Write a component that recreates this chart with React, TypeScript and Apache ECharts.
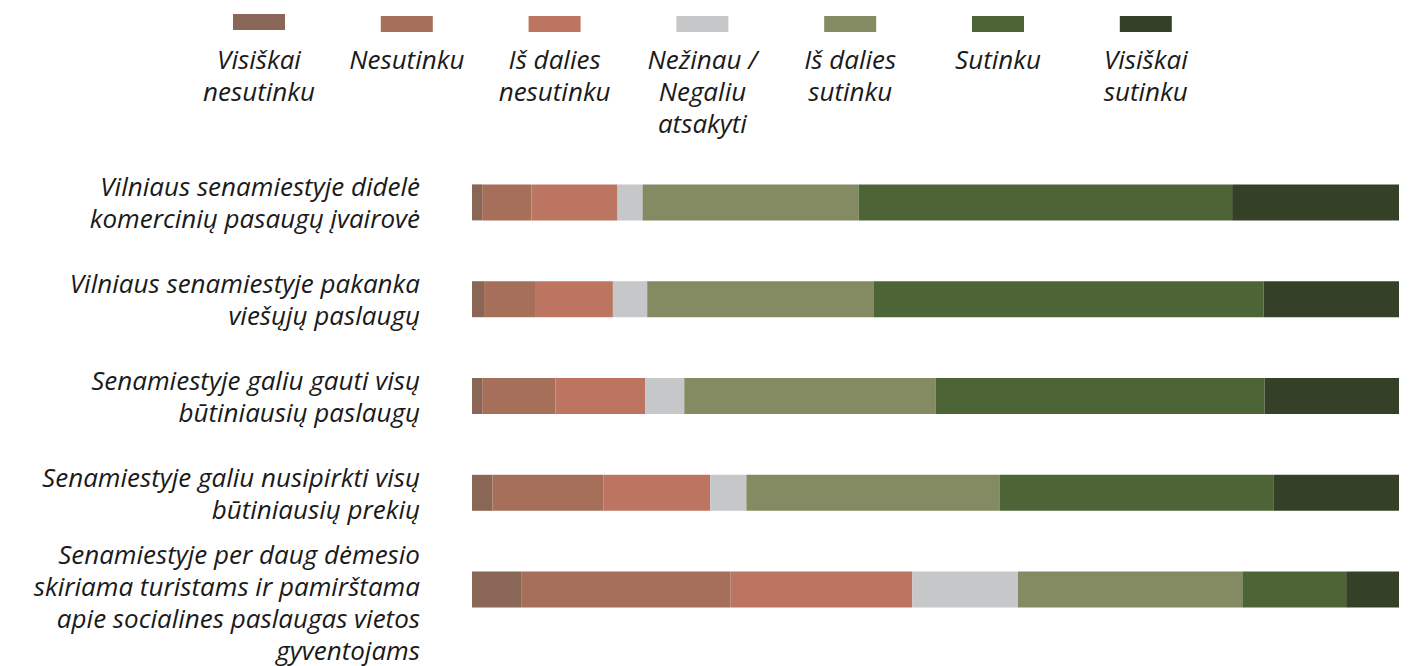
import React, { useEffect, useRef } from "react";
import * as echarts from "echarts";

const categories = [
  "Vilniaus senamiestyje didelė\nkomercinių pasaugų įvairovė",
  "Vilniaus senamiestyje pakanka\nviešųjų paslaugų",
  "Senamiestyje galiu gauti visų\nbūtiniausių paslaugų",
  "Senamiestyje galiu nusipirkti visų\nbūtiniausių prekių",
  "Senamiestyje per daug dėmesio\nskiriama turistams ir pamirštama\napie socialines paslaugas vietos\ngyventojams",
];

const seriesNames = [
  "Visiškai\nnesutinku",
  "Nesutinku",
  "Iš dalies\nnesutinku",
  "Nežinau /\nNegaliu\natsakyti",
  "Iš dalies\nsutinku",
  "Sutinku",
  "Visiškai\nsutinku",
];

const colors = ["#8A6656", "#A66F5A", "#BC7560", "#C6C7C9", "#848A61", "#4D6437", "#344127"];

const visiskaiNesutinku = [1.1, 1.3, 1.1, 2.2, 5.3];
const nesutinku = [5.3, 5.5, 7.9, 12.0, 22.6];
const isDaliesNesutinku = [9.3, 8.4, 9.7, 11.5, 19.6];
const nezinau = [2.7, 3.7, 4.2, 3.9, 11.4];
const isDaliesSutinku = [23.3, 24.4, 27.1, 27.3, 24.2];
const sutinku = [40.3, 42.1, 35.5, 29.6, 11.2];
const visiskaiSutinku = [18.0, 14.6, 14.5, 13.5, 5.7];

const values = [
  visiskaiNesutinku,
  nesutinku,
  isDaliesNesutinku,
  nezinau,
  isDaliesSutinku,
  sutinku,
  visiskaiSutinku,
];

const FONT = '"Open Sans", "Noto Sans", sans-serif';

export default function App() {
  const ref = useRef<HTMLDivElement>(null);
  useEffect(() => {
    if (!ref.current) return;
    const chart = echarts.init(ref.current, null, { renderer: "svg" });
    const legendStart = 259;
    const legendStep = 147.8;
    const legendGraphics: any[] = [];
    seriesNames.forEach((name, i) => {
      const cx = legendStart + i * legendStep;
      legendGraphics.push({
        type: "rect",
        shape: { x: cx - 26, y: i === 0 ? 14 : 16, width: 52, height: 16 },
        style: { fill: colors[i] },
        silent: true,
      });
      legendGraphics.push({
        type: "text",
        x: cx,
        y: 43,
        style: {
          text: name,
          align: "center",
          verticalAlign: "top",
          fontFamily: FONT,
          fontStyle: "italic",
          fontSize: 26,
          lineHeight: 32,
          fill: "#1a1a1a",
        },
        silent: true,
      });
    });
    chart.setOption({
      animation: false,
      backgroundColor: "#ffffff",
      grid: { left: 472, right: 12, top: 154, bottom: 28, containLabel: false },
      xAxis: {
        type: "value",
        min: 0,
        max: 100,
        show: false,
      },
      yAxis: {
        type: "category",
        data: categories,
        inverse: true,
        axisLine: { show: false },
        axisTick: { show: false },
        splitLine: { show: false },
        axisLabel: {
          interval: 0,
          hideOverlap: false,
          margin: 52,
          fontFamily: FONT,
          fontStyle: "italic",
          fontSize: 26,
          lineHeight: 32,
          color: "#1a1a1a",
          align: "right",
          formatter: (value: string, idx: number) =>
            idx === categories.length - 1 ? "{pad| }\n" + value : value,
          rich: {
            pad: { fontSize: 1, lineHeight: 24 },
          },
        },
      },
      series: seriesNames.map((name, i) => ({
        name,
        type: "bar",
        stack: "total",
        barWidth: 36,
        data: values[i],
        itemStyle: { color: colors[i] },
        emphasis: { disabled: true },
      })),
      graphic: legendGraphics,
    });
    return () => chart.dispose();
  }, []);
  return (
    <div
      ref={ref}
      style={{ position: "absolute", left: 0, top: 0, width: 1411, height: 666 }}
    />
  );
}
